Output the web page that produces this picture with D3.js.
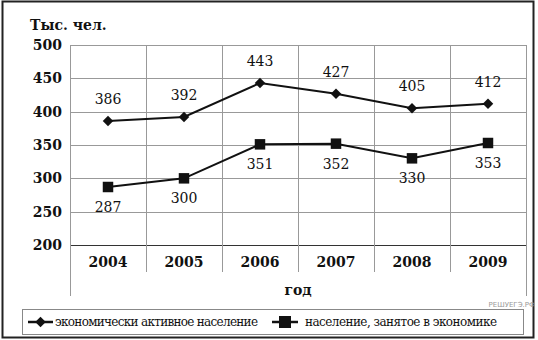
<!DOCTYPE html>
<html>
<head>
<meta charset="utf-8">
<script src="https://cdn.jsdelivr.net/npm/d3@7"></script>
<style>
  body { margin: 0; background: #fff; }
  svg { display: block; }
</style>
</head>
<body>
<div id="wrapper"></div>
<script>
const years = ["2004", "2005", "2006", "2007", "2008", "2009"];
const active = [386, 392, 443, 427, 405, 412];
const employed = [287, 300, 351, 352, 330, 353];
const yTicks = [200, 250, 300, 350, 400, 450, 500];
const seriesNames = ["экономически активное население", "население, занятое в экономике"];

function drawChart() {
    let dimensions = {
        width: 538,
        height: 340,
        margins: { top: 45, right: 12, bottom: 95, left: 70 }
    };
    dimensions.boundedWidth = dimensions.width - dimensions.margins.left - dimensions.margins.right;
    dimensions.boundedHeight = dimensions.height - dimensions.margins.top - dimensions.margins.bottom;

    const serif = "'DejaVu Serif', serif";

    const wrapper = d3.select("#wrapper")
        .append("svg")
        .attr("width", dimensions.width)
        .attr("height", dimensions.height);

    // outer frame
    wrapper.append("rect")
        .attr("x", 2.5).attr("y", 1.5)
        .attr("width", 531).attr("height", 336)
        .attr("fill", "none").attr("stroke", "#222").attr("stroke-width", 2);

    const bounds = wrapper.append("g")
        .attr("transform", `translate(${dimensions.margins.left},${dimensions.margins.top})`);

    const xScale = d3.scaleBand()
        .domain(years)
        .range([0, dimensions.boundedWidth]);

    const yScale = d3.scaleLinear()
        .domain([200, 500])
        .range([dimensions.boundedHeight, 0]);

    // horizontal grid
    bounds.append("g").selectAll("line")
        .data(yTicks)
        .join("line")
        .attr("x1", 0).attr("x2", dimensions.boundedWidth)
        .attr("y1", d => Math.round(yScale(d)) + 0.5)
        .attr("y2", d => Math.round(yScale(d)) + 0.5)
        .attr("stroke", d => d === 200 ? "#333" : "#999")
        .attr("stroke-width", 1);

    // vertical category lines, extending down below the axis
    const xEdges = years.map(d => xScale(d)).concat([dimensions.boundedWidth]);
    bounds.append("g").selectAll("line")
        .data(xEdges)
        .join("line")
        .attr("x1", d => Math.round(d) + 0.5)
        .attr("x2", d => Math.round(d) + 0.5)
        .attr("y1", 0)
        .attr("y2", (d, i) => (i === 0 || i === xEdges.length - 1) ? dimensions.boundedHeight + 51 : dimensions.boundedHeight + 27)
        .attr("stroke", "#999")
        .attr("stroke-width", 1);

    // y axis
    const yAxisGenerator = d3.axisLeft(yScale)
        .tickValues(yTicks)
        .tickSize(0)
        .tickPadding(8);
    const yAxis = bounds.append("g").call(yAxisGenerator)
        .attr("font-family", null);
    yAxis.select(".domain").remove();
    yAxis.selectAll("text")
        .style("font-family", serif)
        .style("font-weight", "bold")
        .style("font-size", "14px")
        .attr("fill", "#111");

    // x axis
    const xAxisGenerator = d3.axisBottom(xScale)
        .tickSize(0)
        .tickPadding(12);
    const xAxis = bounds.append("g")
        .attr("transform", `translate(0,${dimensions.boundedHeight})`)
        .call(xAxisGenerator)
        .attr("font-family", null);
    xAxis.select(".domain").remove();
    xAxis.selectAll("text")
        .style("font-family", serif)
        .style("font-weight", "bold")
        .style("font-size", "14px")
        .attr("fill", "#111");

    // axis titles
    wrapper.append("text")
        .attr("x", 30).attr("y", 30)
        .style("font-family", serif)
        .style("font-weight", "bold")
        .style("font-size", "14px")
        .attr("fill", "#111")
        .text("Тыс. чел.");

    bounds.append("text")
        .attr("x", dimensions.boundedWidth / 2)
        .attr("y", dimensions.boundedHeight + 50)
        .attr("text-anchor", "middle")
        .style("font-family", serif)
        .style("font-weight", "bold")
        .style("font-size", "14px")
        .attr("fill", "#111")
        .text("год");

    const xAccessor = (d, i) => xScale(years[i]) + xScale.bandwidth() / 2;
    const lineGenerator = d3.line()
        .x((d, i) => xAccessor(d, i))
        .y(d => yScale(d));

    const diamond = d3.symbol().type(d3.symbolDiamond2).size(70);
    const square = d3.symbol().type(d3.symbolSquare).size(110);

    // series 1: active
    bounds.append("path")
        .attr("d", lineGenerator(active))
        .attr("fill", "none").attr("stroke", "#111").attr("stroke-width", 2);
    bounds.append("g").selectAll("path")
        .data(active)
        .join("path")
        .attr("d", diamond)
        .attr("transform", (d, i) => `translate(${xAccessor(d, i)},${yScale(d)})`)
        .attr("fill", "#111");
    bounds.append("g").selectAll("text")
        .data(active)
        .join("text")
        .attr("x", (d, i) => xAccessor(d, i))
        .attr("y", d => yScale(d) - 22)
        .attr("dy", "0.35em")
        .attr("text-anchor", "middle")
        .style("font-family", serif)
        .style("font-size", "14px")
        .attr("fill", "#111")
        .text(d => d);

    // series 2: employed
    bounds.append("path")
        .attr("d", lineGenerator(employed))
        .attr("fill", "none").attr("stroke", "#111").attr("stroke-width", 2);
    bounds.append("g").selectAll("path")
        .data(employed)
        .join("path")
        .attr("d", square)
        .attr("transform", (d, i) => `translate(${xAccessor(d, i)},${yScale(d)})`)
        .attr("fill", "#111");
    bounds.append("g").selectAll("text")
        .data(employed)
        .join("text")
        .attr("x", (d, i) => xAccessor(d, i))
        .attr("y", d => yScale(d) + 20)
        .attr("dy", "0.35em")
        .attr("text-anchor", "middle")
        .style("font-family", serif)
        .style("font-size", "14px")
        .attr("fill", "#111")
        .text(d => d);

    // legend
    const legend = wrapper.append("g");
    legend.append("rect")
        .attr("x", 22.5).attr("y", 309.5)
        .attr("width", 501).attr("height", 25)
        .attr("fill", "none").attr("stroke", "#888").attr("stroke-width", 1);

    const legendY = 322;
    const legendItems = [
        { x: 28, textX: 55, symbol: diamond, textW: 203 },
        { x: 272, textX: 305, symbol: d3.symbol().type(d3.symbolSquare).size(144), textW: 192 }
    ];
    legendItems.forEach((item, i) => {
        const w = i === 0 ? 25 : 26;
        legend.append("line")
            .attr("x1", item.x).attr("x2", item.x + w)
            .attr("y1", legendY).attr("y2", legendY)
            .attr("stroke", "#111").attr("stroke-width", 2.5);
        legend.append("path")
            .attr("d", item.symbol)
            .attr("transform", `translate(${item.x + w / 2},${legendY})`)
            .attr("fill", "#111");
        legend.append("text")
            .attr("x", item.textX).attr("y", legendY)
            .attr("dy", "0.35em")
            .attr("textLength", item.textW)
            .attr("lengthAdjust", "spacing")
            .style("font-family", serif)
            .style("font-size", "12px")
            .attr("fill", "#111")
            .text(seriesNames[i]);
    });

    // watermark
    wrapper.append("text")
        .attr("x", 535).attr("y", 307)
        .attr("text-anchor", "end")
        .style("font-family", "'DejaVu Sans', sans-serif")
        .style("font-size", "7px")
        .attr("fill", "#999")
        .text("РЕШУЕГЭ.РФ");
}

drawChart();
</script>
</body>
</html>
